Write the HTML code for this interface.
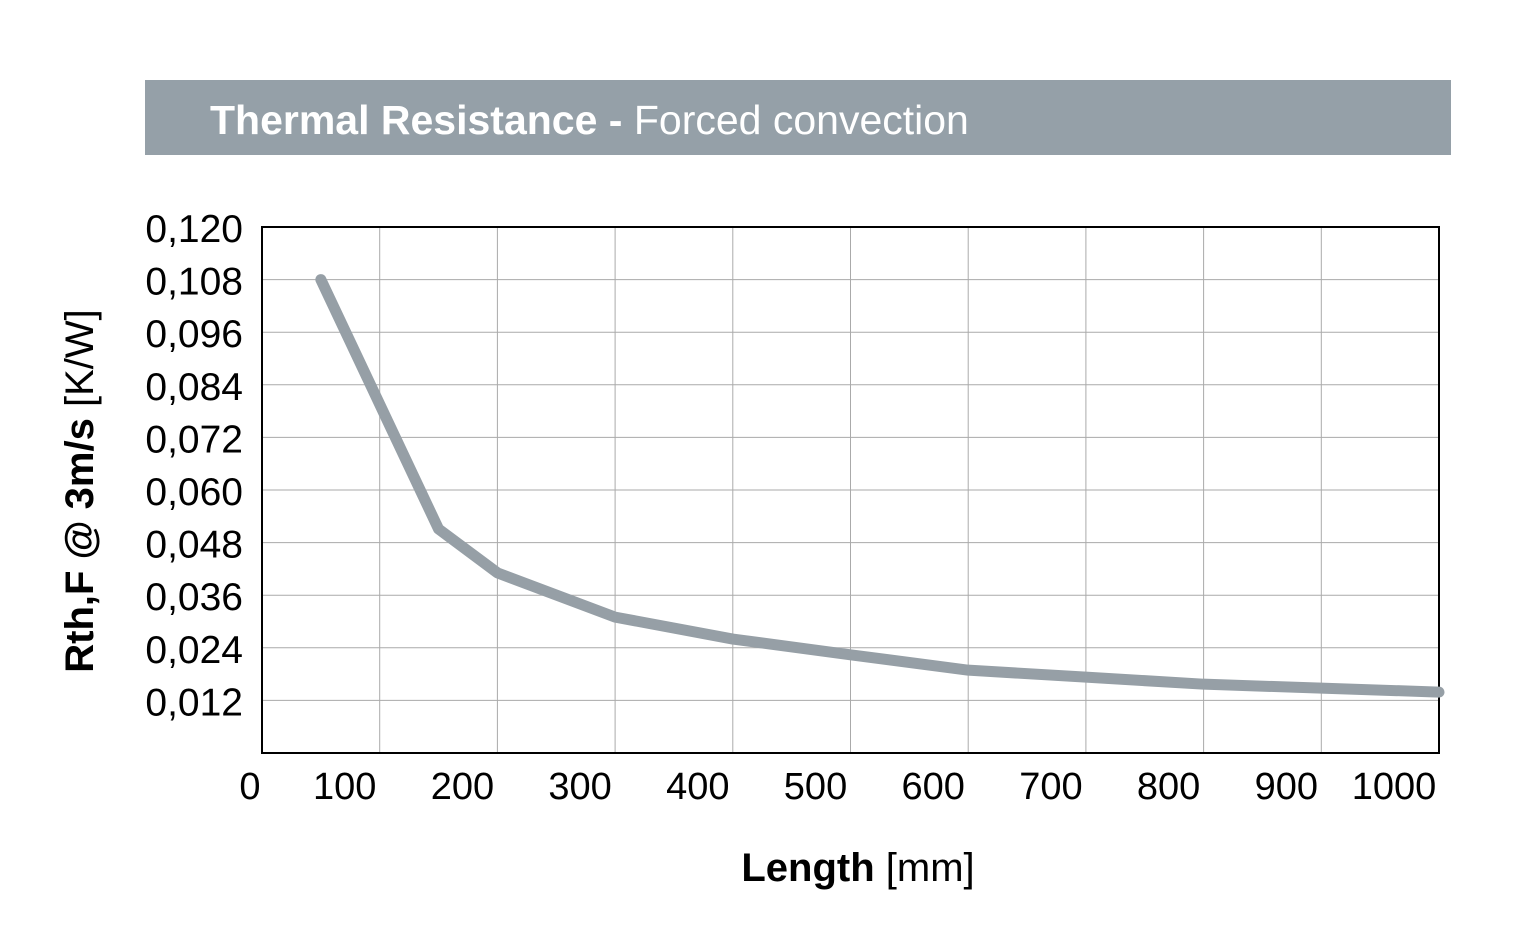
<!DOCTYPE html>
<html><head><meta charset="utf-8"><style>
body{margin:0;background:#fff;}
svg{display:block;font-family:"Liberation Sans",Arial,sans-serif;}
</style></head><body>
<svg width="1526" height="947" viewBox="0 0 1526 947">
<rect x="145" y="80" width="1306" height="75" fill="#95a0a8"/>
<text x="210" y="134" font-size="41" fill="#fff"><tspan font-weight="bold">Thermal Resistance - </tspan>Forced convection</text>
<g id="grid"></g>
<g id="ticks"></g>
<rect x="262" y="227" width="1177" height="526" fill="none" stroke="#000" stroke-width="2"/>
<path id="series" fill="none" stroke="#969fa6" stroke-width="11" stroke-linecap="round" stroke-linejoin="round"/>
<text x="858" y="881" font-size="40" text-anchor="middle"><tspan font-weight="bold">Length</tspan> [mm]</text>
<text transform="translate(93,491) rotate(-90)" font-size="40" text-anchor="middle"><tspan font-weight="bold">Rth,F @ 3m/s</tspan> [K/W]</text>
</svg>
<script>
const lengths=[50,150,200,300,400,500,600,700,800,900,1000];
const rth=[0.108,0.0511,0.0411,0.0310,0.0260,0.0224,0.0189,0.0173,0.0157,0.0148,0.0139];
const xTicks=[0,100,200,300,400,500,600,700,800,900,1000];
const yTicks=[0.012,0.024,0.036,0.048,0.060,0.072,0.084,0.096,0.108,0.120];
const X0=262,X1=1439,Y0=753,Y1=227;
const sx=v=>X0+(v/1000)*(X1-X0);
const sy=v=>Y0-(v/0.12)*(Y0-Y1);
const NS="http://www.w3.org/2000/svg";
const grid=document.getElementById('grid'),ticks=document.getElementById('ticks');
xTicks.forEach(t=>{
 if(t>0&&t<1000){const l=document.createElementNS(NS,'line');
 l.setAttribute('x1',sx(t));l.setAttribute('x2',sx(t));l.setAttribute('y1',Y1);l.setAttribute('y2',Y0);
 l.setAttribute('stroke','#aaa');l.setAttribute('stroke-width','1');
 
 
 grid.appendChild(l);}
 const tx=document.createElementNS(NS,'text');
 tx.setAttribute('x',t===0?250:(t===1000?sx(t)-45:sx(t)-35));tx.setAttribute('y',799);
 tx.setAttribute('font-size','38');tx.setAttribute('text-anchor','middle');
 tx.textContent=t;
 
 
 ticks.appendChild(tx);
});
yTicks.forEach(t=>{
 if(t<0.12){const l=document.createElementNS(NS,'line');
 l.setAttribute('x1',X0);l.setAttribute('x2',X1);l.setAttribute('y1',sy(t));l.setAttribute('y2',sy(t));
 l.setAttribute('stroke','#aaa');l.setAttribute('stroke-width','1');
 
 
 grid.appendChild(l);}
 const tx=document.createElementNS(NS,'text');
 tx.setAttribute('x',243);tx.setAttribute('y',sy(t)+15);
 tx.setAttribute('font-size','39');tx.setAttribute('text-anchor','end');
 tx.textContent=t.toFixed(3).replace('.',',');
 
 
 ticks.appendChild(tx);
});
document.getElementById('series').setAttribute('d',lengths.map((v,i)=>(i?'L':'M')+sx(v)+','+sy(rth[i])).join(' '));
</script>
</body></html>
